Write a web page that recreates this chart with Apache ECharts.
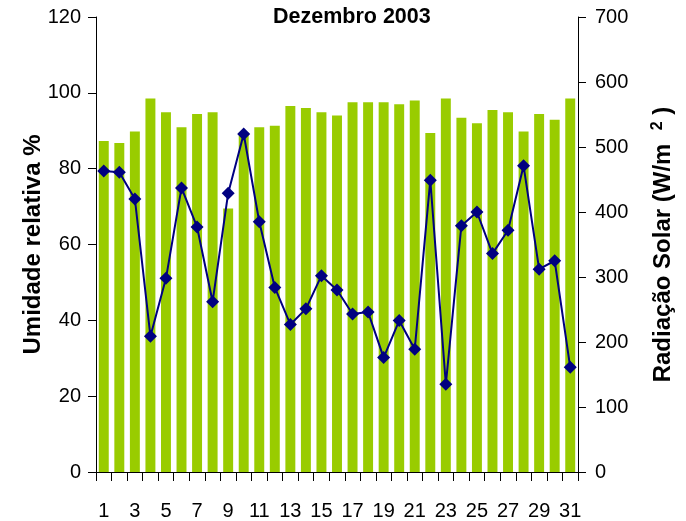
<!DOCTYPE html>
<html>
<head>
<meta charset="utf-8">
<script src="https://cdn.jsdelivr.net/npm/echarts@6/dist/echarts.min.js"></script>
<style>
  html, body { margin: 0; padding: 0; background: #fff; }
  #main { width: 686px; height: 521px; }
</style>
</head>
<body>
<div id="main"></div>
<script>
(function() {
    // dias de dezembro
    var dias = [];
    for (var d = 1; d <= 31; d++) dias.push(String(d));

    // umidade relativa (%), barras
    var umidade = [87.3, 86.8, 89.8, 98.5, 94.9, 90.9, 94.4, 94.9, 69.5, 89.5,
        90.9, 91.3, 96.5, 96.0, 94.9, 94.0, 97.5, 97.5, 97.5, 97.0,
        98.0, 89.4, 98.5, 93.4, 92.0, 95.5, 94.9, 89.8, 94.4, 92.9, 98.5];

    // radiacao solar (W/m2), linha
    var radiacao = [463, 461, 420, 209, 298, 437, 377, 262, 429, 520,
        385, 284, 227, 251, 302, 280, 243, 246, 176, 233,
        189, 449, 135, 379, 400, 336, 372, 471, 312, 325, 161];

    var fonte = 'Arial, "Liberation Sans", sans-serif';

    var chart = echarts.init(document.getElementById('main'));
    var option = {
        animation: false,
        title: {
            text: 'Dezembro 2003',
            left: 268,
            top: 1,
            textStyle: { fontFamily: fonte, fontSize: 21.5, fontWeight: 'bold', color: '#000' }
        },
        grid: { left: 96, right: 108, top: 17, bottom: 49 },
        xAxis: {
            type: 'category',
            data: dias,
            axisLine: { lineStyle: { color: '#000', width: 1 } },
            axisTick: { show: true, interval: 0, length: 9, lineStyle: { color: '#000' } },
            axisLabel: { interval: 1, margin: 29, fontFamily: fonte, fontSize: 20, color: '#000' }
        },
        yAxis: [{
            type: 'value',
            min: 0, max: 120, interval: 20,
            name: 'Umidade relativa %',
            nameLocation: 'middle',
            nameGap: 51,
            nameMoveOverlap: false,
            nameRotate: 90,
            nameTextStyle: { fontFamily: fonte, fontSize: 24, fontWeight: 'bold', color: '#000' },
            splitLine: { show: false },
            axisLine: { show: true, lineStyle: { color: '#000' } },
            axisTick: { show: true, length: 8, lineStyle: { color: '#000' } },
            axisLabel: { margin: 15, fontFamily: fonte, fontSize: 20, color: '#000' }
        }, {
            type: 'value',
            min: 0, max: 700, interval: 100,
            position: 'right',
            name: 'Radiação Solar (W/m  {sup|2} )',
            nameLocation: 'middle',
            nameGap: 72,
            nameMoveOverlap: false,
            nameRotate: 90,
            nameTextStyle: {
                fontFamily: fonte, fontSize: 24, fontWeight: 'bold', color: '#000',
                rich: {
                    sup: { fontFamily: fonte, fontSize: 16, fontWeight: 'bold', color: '#000', verticalAlign: 'top', padding: [0, 0, 10, 0] }
                }
            },
            splitLine: { show: false },
            axisLine: { show: true, lineStyle: { color: '#000' } },
            axisTick: { show: true, length: 8, lineStyle: { color: '#000' } },
            axisLabel: { margin: 17, fontFamily: fonte, fontSize: 20, color: '#000' }
        }],
        series: [{
            name: 'Umidade relativa',
            type: 'bar',
            yAxisIndex: 0,
            barWidth: '64%',
            itemStyle: { color: '#99cc00' },
            data: umidade
        }, {
            name: 'Radiação Solar',
            type: 'line',
            yAxisIndex: 1,
            symbol: 'diamond',
            symbolSize: 13,
            showAllSymbol: true,
            lineStyle: { color: '#000080', width: 2 },
            itemStyle: { color: '#000080' },
            data: radiacao
        }]
    };
    chart.setOption(option);
})();
</script>
</body>
</html>
